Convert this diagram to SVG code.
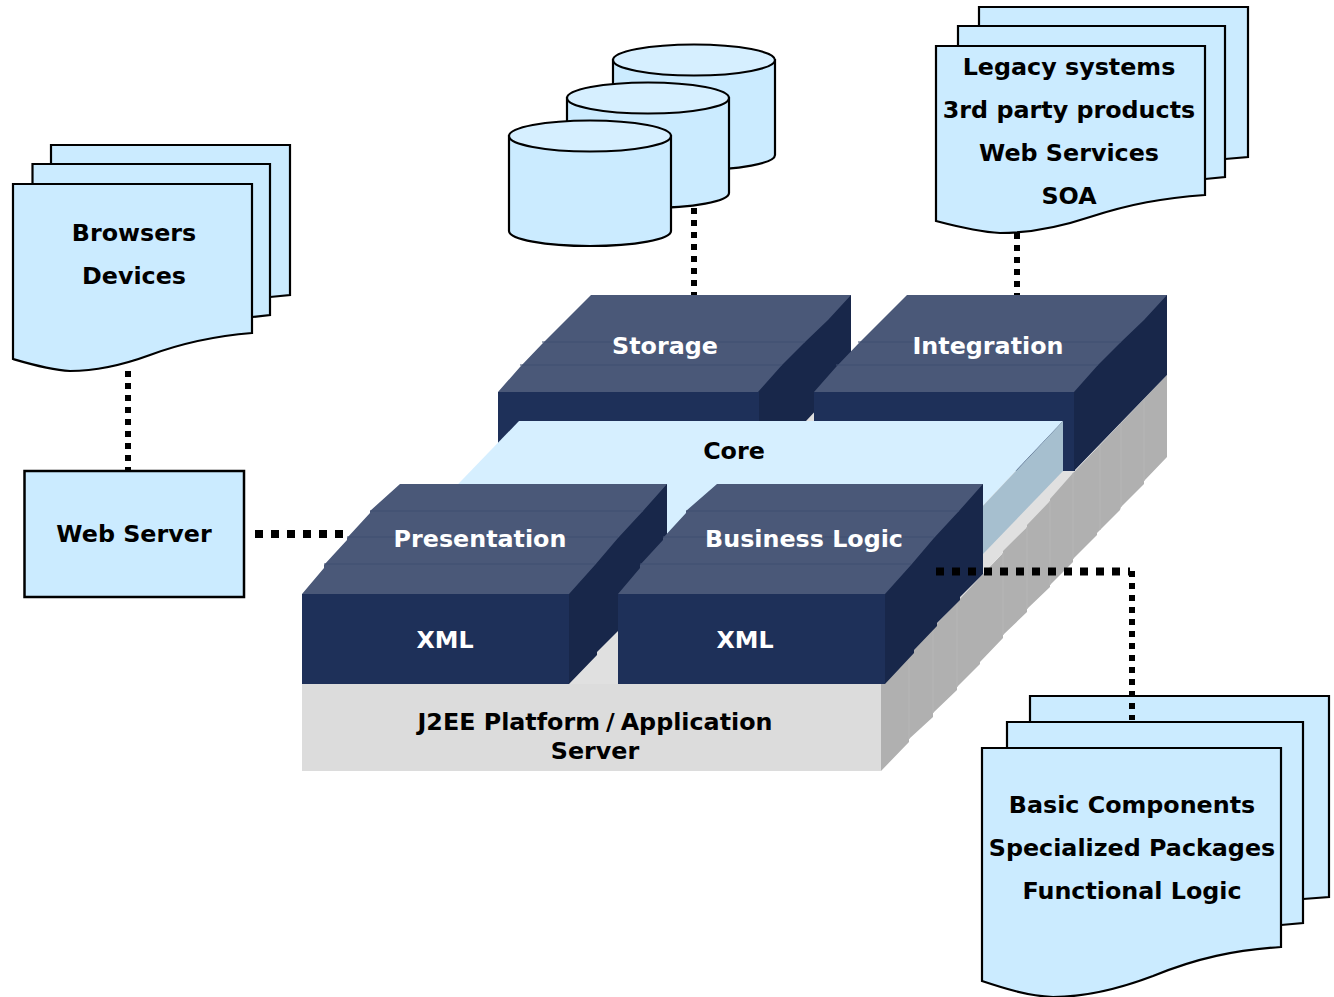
<svg xmlns="http://www.w3.org/2000/svg" width="1334" height="997" viewBox="0 0 1334 997">
<style>
text{font-family:"DejaVu Sans",Verdana,sans-serif;font-weight:bold;font-size:23.800px;text-anchor:middle;fill:#000}
text.w{fill:#fff}
.doc{fill:#cbebff;stroke:#000;stroke-width:2.200;stroke-linejoin:miter}
.top{fill:#4a5878}
.seam{stroke:#3f4e70;stroke-width:1;fill:none}
.front{fill:#1e3059}
.side{fill:#18274a}
.gseam{stroke:#b6b6b6;stroke-width:1}
.dot{fill:none;stroke:#000}
.d8{stroke-width:8;stroke-dasharray:8 8}
.d6{stroke-width:6;stroke-dasharray:6 6}
.cyl{fill:#cbebff;stroke:#000;stroke-width:2.200}
.cylt{fill:#d6efff;stroke:#000;stroke-width:2.200}
</style>
<g id="platform">
<polygon fill="#e0e0e0" points="569,684 881,684 1074,476 1074,400 800,400 569,600"/>
<polygon fill="#dcdcdc" points="302,684 881,684 881,771 302,771"/>
<polygon fill="#b0b0b0" points="881,684 983,574 1003,553 1003,551 1027,527 1027,525 1050,501 1050,499 1073,473 1167,375 1167,457 1144,481 1144,484 1121,507 1120,510 1097,533 1097,535 1073,559 1073,562 1050,585 1050,587 1027,609 1027,612 1003,635 1003,638 980,662 980,664 957,687 957,690 933,713 933,717 909,739 909,742 881,771"/>
<g class="gseam"><line x1="909" y1="654" x2="909" y2="739"/><line x1="933" y1="628" x2="933" y2="713"/><line x1="957" y1="602" x2="957" y2="687"/><line x1="1003" y1="553" x2="1003" y2="635"/><line x1="1027" y1="527" x2="1027" y2="609"/><line x1="1050" y1="501" x2="1050" y2="585"/><line x1="1073" y1="473" x2="1073" y2="559"/><line x1="1100" y1="445" x2="1100" y2="530"/><line x1="1121" y1="423" x2="1121" y2="507"/><line x1="1144" y1="400" x2="1144" y2="481"/></g>
<text x="595" y="730">J2EE Platform<tspan dx="6">/</tspan><tspan dx="6">Application</tspan></text>
<text x="595" y="759">Server</text>
</g>
<g id="storage">
<rect class="front" x="498" y="392" width="261" height="60"/>
<polygon class="side" points="740,392 840,295 851,295 851,373 806,421 759,421 759,392"/>
<polygon class="top" points="591,295 851,295 828,320 805,342 782,365 758,392 498,392 520,367 542,344 564,322"/>
<path class="seam" d="M542,342H805M520,365H782"/>
<text class="w" x="665" y="354">Storage</text>
</g>
<g id="integration">
<rect class="front" x="814" y="392" width="261" height="79"/>
<polygon class="side" points="1056,392 1156,295 1167,295 1167,375 1074,471 1074,392"/>
<polygon class="top" points="907,295 1167,295 1144,320 1121,342 1098,365 1074,392 814,392 836,367 858,344 880,322"/>
<path class="seam" d="M858,342H1121M836,365H1098"/>
<text class="w" x="988" y="354">Integration</text>
</g>
<g id="core">
<polygon fill="#d6efff" points="519,421 1063,421 899,594 352,594"/>
<polygon fill="#a6bfcf" points="1063,421 1063,471 900,640 900,594"/>
<text x="734" y="459">Core</text>
</g>
<g id="presentation">
<rect class="front" x="302" y="594" width="267" height="90"/>
<polygon class="side" points="550,594 655,484 667,484 667,565 618,631 597,652 597,655 569,684 569,594"/>
<polygon class="top" points="400,484 667,484 643,511 618,538 595,565 569,594 302,594 324,568 324,565 347,540 347,538 370,513 370,511"/>
<path class="seam" d="M370,511H643M347,537H618M324,564H595"/>
<text class="w" x="480" y="547">Presentation</text>
<text class="w" x="445" y="648">XML</text>
</g>
<g id="business-logic">
<rect class="front" x="618" y="594" width="267" height="90"/>
<polygon class="side" points="866,594 971,484 983,484 983,574 960,597 960,600 937,623 937,626 914,650 914,653 885,684 885,594"/>
<polygon class="top" points="717,484 983,484 959,511 934,538 911,565 885,594 618,594 640,568 640,565 663,540 663,538 686,513 686,511"/>
<path class="seam" d="M686,511H959M663,537H934M640,564H911"/>
<text class="w" x="804" y="547">Business Logic</text>
<text class="w" x="745" y="648">XML</text>
</g>
<g id="databases">
<path class="cyl" d="M613,60V155A81,15 0 0 0 775,155V60Z"/>
<ellipse class="cylt" cx="694" cy="60" rx="81" ry="15.500"/>
<path class="cyl" d="M567,98V193A81,15 0 0 0 729,193V98Z"/>
<ellipse class="cylt" cx="648" cy="98" rx="81" ry="15.500"/>
<path class="cyl" d="M509,136V231A81,15 0 0 0 671,231V136Z"/>
<ellipse class="cylt" cx="590" cy="136" rx="81" ry="15.500"/>
</g>
<g id="legacy">
<path class="doc" d="M979,7H1248V157L1225,159H979Z"/>
<path class="doc" d="M958,26H1225V177L1205,179H958Z"/>
<path class="doc" d="M936,46H1205V195C1163,198 1130,204 1090,217C1057,228 1028,233 1000,233C978,232 955,226 936,221Z"/>
<text x="1069" y="75">Legacy systems</text>
<text x="1069" y="118">3rd party products</text>
<text x="1069" y="161">Web Services</text>
<text x="1069" y="204">SOA</text>
</g>
<g id="clients">
<path class="doc" d="M51,145H290V295L270,297H51Z"/>
<path class="doc" d="M32.500,164H270V315L252,317H32.500Z"/>
<path class="doc" d="M13,184H252V333C215,336 185,342 150,355C120,366 95,371 70,371C50,370 30,364 13,359Z"/>
<text x="134" y="241">Browsers</text>
<text x="134" y="284">Devices</text>
</g>
<g id="web-server">
<rect x="24.500" y="471" width="219.500" height="126" fill="#cbebff" stroke="#000" stroke-width="2.500"/>
<text x="134" y="542">Web Server</text>
</g>
<g id="components">
<path class="doc" d="M1030,696H1329V897L1303,899H1030Z"/>
</g>
<g id="connectors">
<path class="dot d8" d="M255,534H347"/>
<path class="dot d6" d="M128,371V471"/>
<path class="dot d6" d="M694,208V295"/>
<path class="dot d6" d="M1017,233V295"/>
<path class="dot d8" d="M936,571.500H1130"/>
<path class="dot d6" d="M1132,571V720"/>
</g>
<g id="components-front">
<path class="doc" d="M1007,722H1303V923L1281,925H1007Z"/>
<path class="doc" d="M982,748H1281V947C1235,950 1197,958 1153,976C1116,990 1085,997 1053,997C1028,996 1003,988 982,981Z"/>
<text x="1132" y="813">Basic Components</text>
<text x="1132" y="856">Specialized Packages</text>
<text x="1132" y="899">Functional Logic</text>
</g>
</svg>
